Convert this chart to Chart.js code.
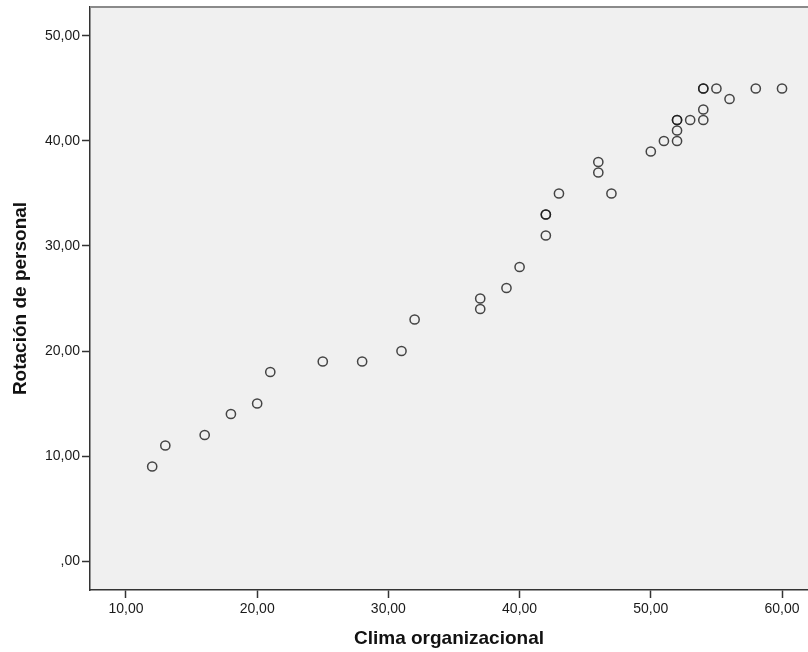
<!DOCTYPE html>
<html>
<head>
<meta charset="utf-8">
<script src="https://cdn.jsdelivr.net/npm/chart.js@4"></script>
<style>
html,body{margin:0;padding:0;background:#fff;}
#wrap{width:808px;height:652px;position:relative;}
</style>
</head>
<body>
<div id="wrap"><canvas id="c" width="808" height="652"></canvas></div>
<script>
// Clima organizacional (x) values
const clima = [12,13,16,18,20,21,25,28,31,32,37,37,39,40,42,42,42,43,46,46,47,50,51,52,52,52,52,53,54,54,54,54,55,56,58,60];
// Rotación de personal (y) values
const rotacion = [9,11,12,14,15,18,19,19,20,23,25,24,26,28,31,33,33,35,37,38,35,39,40,40,41,42,42,42,42,43,45,45,45,44,45,45];
const xTicks = [10,20,30,40,50,60];
const yTicks = [0,10,20,30,40,50];
const xTitle = 'Clima organizacional';
const yTitle = 'Rotación de personal';

const fmt = v => {
  const s = Number(v).toFixed(2).replace('.', ',');
  return s.startsWith('0,') ? s.slice(1) : s;
};

const points = clima.map((x,i)=>({x:x, y:rotacion[i]}));

const bgPlugin = {
  id:'bg',
  beforeDraw(chart){
    const {ctx, chartArea:a} = chart;
    ctx.save();
    ctx.fillStyle = '#f0f0f0';
    ctx.fillRect(a.left, a.top, a.right-a.left, a.bottom-a.top);
    ctx.restore();
  },
  afterDraw(chart){
    const {ctx, chartArea:a} = chart;
    ctx.save();
    ctx.strokeStyle = '#8a8a8a';
    ctx.lineWidth = 2;
    ctx.beginPath();
    ctx.moveTo(a.left, a.top);
    ctx.lineTo(a.right, a.top);
    ctx.stroke();
    ctx.restore();
  }
};

new Chart(document.getElementById('c'), {
  type:'scatter',
  data:{datasets:[{
    data: points,
    pointRadius: 4.6,
    pointHoverRadius: 4.6,
    pointBorderWidth: 1.5,
    pointBorderColor: 'rgba(25,25,25,0.8)',
    pointBackgroundColor: 'rgba(0,0,0,0)'
  }]},
  options:{
    responsive:false,
    animation:false,
    devicePixelRatio:1,
    layout:{autoPadding:false, padding:{top:7,right:0,left:0,bottom:0}},
    plugins:{legend:{display:false}, tooltip:{enabled:false}},
    scales:{
      x:{
        type:'linear',
        min:7.26, max:61.98,
        afterBuildTicks(s){ s.ticks = xTicks.map(v=>({value:v})); },
        afterFit(s){ s.height = 62; s.paddingLeft = 0; s.paddingRight = 0; },
        ticks:{callback:fmt, color:'#1a1a1a', font:{family:'Liberation Sans', size:14}, padding:3, maxRotation:0, autoSkip:false},
        grid:{display:true, drawOnChartArea:false, drawTicks:true, tickLength:8, tickWidth:1.5, color:'#333'},
        border:{display:true, color:'#333', width:1.5},
        title:{display:true, text:xTitle, color:'#111', font:{family:'Liberation Sans', size:19, weight:'bold'}, padding:{top:0,bottom:2}}
      },
      y:{
        type:'linear',
        min:-2.76, max:52.76,
        afterBuildTicks(s){ s.ticks = yTicks.map(v=>({value:v})); },
        afterFit(s){ s.width = 90; s.paddingTop = 0; s.paddingBottom = 0; },
        ticks:{callback:fmt, color:'#1a1a1a', font:{family:'Liberation Sans', size:14}, padding:2, autoSkip:false},
        grid:{display:true, drawOnChartArea:false, drawTicks:true, tickLength:8, tickWidth:1.5, color:'#333'},
        border:{display:true, color:'#333', width:1.5},
        title:{display:true, text:yTitle, color:'#111', font:{family:'Liberation Sans', size:19, weight:'bold'}, padding:{top:9,bottom:0}}
      }
    }
  },
  plugins:[bgPlugin]
});
</script>
</body>
</html>
